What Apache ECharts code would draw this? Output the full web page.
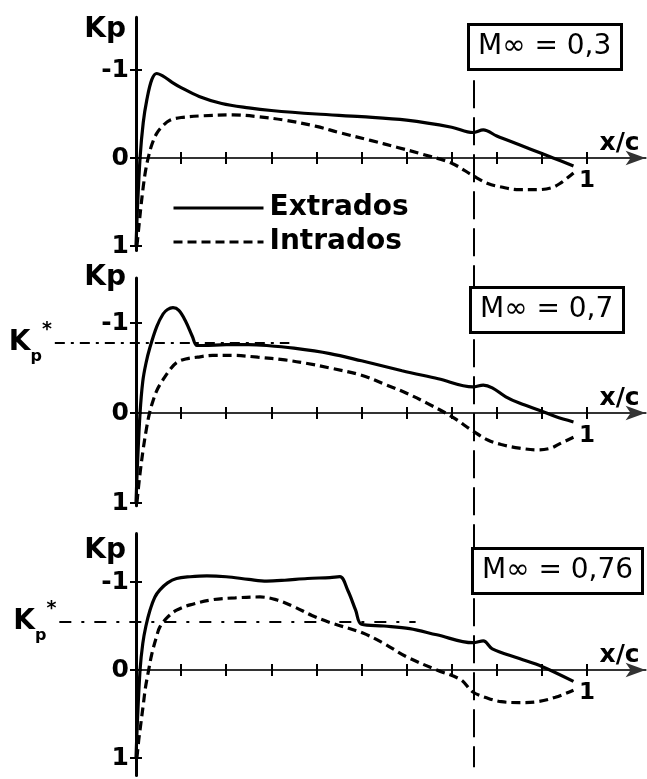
<!DOCTYPE html>
<html><head><meta charset="utf-8">
<script src="https://cdn.jsdelivr.net/npm/echarts@6/dist/echarts.min.js"></script>
<style>html,body{margin:0;padding:0;background:#fff}#c{width:647px;height:779px}</style>
</head><body><div id="c"></div>
<script>
// ---- data ----
const machLabels = ['M∞ = 0,3', 'M∞ = 0,7', 'M∞ = 0,76'];
const seriesNames = ['Extrados', 'Intrados'];
const kpTicks = [-1, 0, 1];
const kpTickLabels = ['-1', '0', '1'];
const xTicks = [0.1, 0.2, 0.3, 0.4, 0.5, 0.6, 0.7, 0.8, 0.9, 1.0];
const xLabelValues = [1];
const shockX = 0.75;               // x/c of the vertical dashed line
const kpStarValues = [null, -0.78, -0.55];
const kpStarSpan = [null, [-0.18, 0.34], [-0.17, 0.62]];

const extrados1 = [[0,1.0],[0.003,0.6],[0.009,0],[0.016,-0.4],[0.024,-0.66],[0.035,-0.89],[0.046,-0.96],[0.06,-0.93],[0.08,-0.86],[0.1,-0.8],[0.14,-0.7],[0.19,-0.62],[0.25,-0.57],[0.3,-0.54],[0.4,-0.5],[0.5,-0.47],[0.6,-0.43],[0.7,-0.35],[0.747,-0.29],[0.77,-0.32],[0.8,-0.25],[0.85,-0.15],[0.9,-0.05],[0.925,0],[0.97,0.09]];
const intrados1 = [[0.002,1.0],[0.006,0.8],[0.011,0.55],[0.016,0.33],[0.021,0.15],[0.027,0],[0.035,-0.15],[0.046,-0.28],[0.06,-0.37],[0.075,-0.43],[0.1,-0.46],[0.15,-0.48],[0.215,-0.49],[0.27,-0.47],[0.33,-0.43],[0.4,-0.36],[0.45,-0.29],[0.52,-0.2],[0.58,-0.12],[0.63,-0.05],[0.7,0.06],[0.747,0.2],[0.78,0.29],[0.81,0.33],[0.85,0.36],[0.89,0.36],[0.92,0.34],[0.94,0.29],[0.97,0.17]];

const extrados2 = [[0,1.0],[0.003,0.6],[0.009,0],[0.015,-0.35],[0.022,-0.55],[0.031,-0.73],[0.046,-0.96],[0.06,-1.1],[0.07,-1.15],[0.082,-1.17],[0.095,-1.14],[0.11,-1.02],[0.125,-0.85],[0.135,-0.75],[0.15,-0.75],[0.2,-0.76],[0.25,-0.76],[0.29,-0.75],[0.35,-0.72],[0.43,-0.66],[0.5,-0.58],[0.59,-0.47],[0.67,-0.38],[0.747,-0.29],[0.77,-0.31],[0.79,-0.28],[0.82,-0.18],[0.85,-0.11],[0.9,-0.02],[0.93,0.04],[0.97,0.1]];
const intrados2 = [[0.002,1.0],[0.005,0.85],[0.009,0.67],[0.016,0.4],[0.024,0.15],[0.03,0],[0.038,-0.14],[0.048,-0.27],[0.06,-0.37],[0.075,-0.48],[0.09,-0.56],[0.11,-0.6],[0.135,-0.62],[0.17,-0.64],[0.215,-0.64],[0.27,-0.62],[0.33,-0.59],[0.38,-0.55],[0.43,-0.5],[0.5,-0.42],[0.556,-0.31],[0.6,-0.22],[0.645,-0.11],[0.7,0.04],[0.747,0.2],[0.78,0.3],[0.81,0.35],[0.85,0.39],[0.89,0.41],[0.92,0.39],[0.94,0.34],[0.97,0.27]];

const extrados3 = [[0,1.0],[0.003,0.6],[0.009,0],[0.015,-0.3],[0.022,-0.5],[0.031,-0.68],[0.042,-0.83],[0.053,-0.91],[0.07,-0.99],[0.09,-1.04],[0.12,-1.06],[0.157,-1.07],[0.2,-1.06],[0.25,-1.03],[0.29,-1.01],[0.33,-1.02],[0.38,-1.04],[0.43,-1.05],[0.452,-1.06],[0.47,-0.9],[0.487,-0.68],[0.5,-0.52],[0.55,-0.5],[0.607,-0.47],[0.667,-0.4],[0.747,-0.31],[0.77,-0.33],[0.79,-0.24],[0.85,-0.13],[0.9,-0.04],[0.97,0.13]];
const intrados3 = [[0.002,1.0],[0.006,0.8],[0.009,0.68],[0.016,0.4],[0.021,0.2],[0.027,0.03],[0.035,-0.18],[0.045,-0.37],[0.053,-0.49],[0.07,-0.6],[0.09,-0.68],[0.12,-0.74],[0.171,-0.8],[0.22,-0.82],[0.275,-0.83],[0.31,-0.8],[0.35,-0.72],[0.39,-0.62],[0.43,-0.54],[0.503,-0.42],[0.55,-0.3],[0.6,-0.15],[0.667,0],[0.72,0.11],[0.747,0.25],[0.78,0.32],[0.81,0.36],[0.85,0.37],[0.89,0.36],[0.93,0.31],[0.97,0.23]];

const extradosAll = [extrados1, extrados2, extrados3];
const intradosAll = [intrados1, intrados2, intrados3];

// ---- layout (not data) ----
const FONT = 'DejaVu Sans';
const PX_PER_X = 451;
const GRID_LEFT = 136, X_MIN_EXT = -0.19, X_MAX = 1.13;
const GRID_W = X_MAX * PX_PER_X;
const panels = [
  {top: 17.2, height: 233.2, min: -1.6, max: 1.05, nameGap: 1, box: {left: 468, top: 24}},
  {top: 278, height: 227.7, min: -1.5, max: 1.03, nameGap: 14, box: {left: 470, top: 287}},
  {top: 533.6, height: 242, min: -1.55, max: 1.2, nameGap: -3, box: {left: 472, top: 548}}
];

const grid = [], xAxis = [], yAxis = [], series = [], title = [];
const txt = (size, weight) => ({fontSize: size, fontWeight: weight, color: '#000', fontFamily: FONT});

panels.forEach((p, i) => {
  const gi = grid.length;
  grid.push({left: GRID_LEFT, width: GRID_W, top: p.top, height: p.height});
  const zeroOffset = -p.height * p.max / (p.max - p.min);
  const xi = xAxis.length, yi = yAxis.length;
  xAxis.push({
    type: 'value', gridIndex: gi, min: 0, max: X_MAX, position: 'bottom', offset: zeroOffset,
    axisLine: {onZero: false, lineStyle: {color: '#333', width: 2}, symbol: ['none', 'arrow'], symbolSize: [11, 20]},
    axisTick: {show: true, inside: false, length: 6, customValues: xTicks, lineStyle: {color: '#000', width: 2}},
    axisLabel: Object.assign({show: true, customValues: xLabelValues, margin: 12, formatter: v => String(v)}, txt(23, 'bold')),
    splitLine: {show: false},
    name: 'x/c', nameLocation: 'end', nameGap: -6,
    nameTextStyle: Object.assign({align: 'right', verticalAlign: 'bottom', padding: [0, 0, 2, 0]}, txt(25, 'bold'))
  });
  xAxis.push({
    type: 'value', gridIndex: gi, min: 0, max: X_MAX, position: 'bottom', offset: zeroOffset,
    axisLine: {show: false, onZero: false},
    axisTick: {show: true, inside: true, length: 6, customValues: xTicks, lineStyle: {color: '#000', width: 2}},
    axisLabel: {show: false}, splitLine: {show: false}
  });
  yAxis.push({
    type: 'value', gridIndex: gi, min: p.min, max: p.max, inverse: true, position: 'left',
    axisLine: {onZero: false, lineStyle: {color: '#000', width: 3}},
    axisTick: {show: true, length: 6, customValues: kpTicks, lineStyle: {color: '#000', width: 2}},
    axisLabel: Object.assign({show: true, customValues: kpTicks, margin: 7,
      formatter: v => kpTickLabels[kpTicks.indexOf(v)]}, txt(25, 'bold')),
    splitLine: {show: false},
    name: 'Kp', nameLocation: 'start', nameGap: p.nameGap,
    nameTextStyle: Object.assign({align: 'right', verticalAlign: 'top', padding: [0, 10, 0, 0]}, txt(28, 'bold'))
  });
  yAxis.push({
    type: 'value', gridIndex: gi, min: p.min, max: p.max, inverse: true, position: 'left',
    axisLine: {show: false, onZero: false},
    axisTick: {show: true, inside: true, length: 6, customValues: kpTicks, lineStyle: {color: '#000', width: 2}},
    axisLabel: {show: false}, splitLine: {show: false}
  });
  series.push({
    name: seriesNames[0], type: 'line', xAxisIndex: xi, yAxisIndex: yi,
    data: extradosAll[i], symbol: 'none', smooth: 0.35,
    lineStyle: {color: '#000', width: 3.2}, itemStyle: {color: '#000'}
  });
  series.push({
    name: seriesNames[1], type: 'line', xAxisIndex: xi, yAxisIndex: yi,
    data: intradosAll[i], symbol: 'none', smooth: 0.35,
    lineStyle: {color: '#000', width: 3.2, type: [9, 5]}, itemStyle: {color: '#000'}
  });
  if (kpStarValues[i] !== null) {
    // helper grid sharing the panel's Kp scale but extending left of the Kp axis
    const hg = grid.length;
    grid.push({left: GRID_LEFT + X_MIN_EXT * PX_PER_X, width: (X_MAX - X_MIN_EXT) * PX_PER_X, top: p.top, height: p.height});
    const hx = xAxis.length, hy = yAxis.length;
    xAxis.push({type: 'value', gridIndex: hg, min: X_MIN_EXT, max: X_MAX, show: false});
    yAxis.push({type: 'value', gridIndex: hg, min: p.min, max: p.max, inverse: true, show: false});
    series.push({
      type: 'line', xAxisIndex: hx, yAxisIndex: hy, data: [], clip: false, silent: true,
      markLine: {
        silent: true, symbol: 'none', animation: false,
        lineStyle: {color: '#000', width: 2, type: i === 1 ? [10, 6, 3, 6] : [12, 10, 3, 10]},
        label: {show: true, position: 'start', distance: 3,
          formatter: '{k|K}{p|p}{s|*}',
          rich: {
            k: Object.assign({verticalAlign: 'middle', lineHeight: 44}, txt(28, 'bold')),
            p: Object.assign({verticalAlign: 'bottom', lineHeight: 40}, txt(16, 'bold')),
            s: Object.assign({verticalAlign: 'top', lineHeight: 44}, txt(19, 'bold'))
          }},
        data: [[{coord: [kpStarSpan[i][0], kpStarValues[i]]}, {coord: [kpStarSpan[i][1], kpStarValues[i]]}]]
      }
    });
  }
  title.push({
    text: machLabels[i], left: p.box.left, top: p.box.top,
    backgroundColor: '#fff', borderColor: '#000', borderWidth: 3,
    padding: [7, 10, 7, 10],
    textStyle: Object.assign({lineHeight: 32}, txt(28, 'normal'))
  });
});

// overlay grid for the vertical dashed line spanning all panels
const og = grid.length;
grid.push({left: GRID_LEFT, width: GRID_W, top: 0, height: 779});
const oxi = xAxis.length, oyi = yAxis.length;
xAxis.push({type: 'value', gridIndex: og, min: 0, max: X_MAX, show: false});
yAxis.push({type: 'value', gridIndex: og, min: 0, max: 1, inverse: true, show: false});
series.push({
  type: 'line', xAxisIndex: oxi, yAxisIndex: oyi, data: [], clip: false, silent: true,
  markLine: {
    silent: true, symbol: 'none', animation: false, label: {show: false},
    lineStyle: {color: '#000', width: 2, type: [28, 9]},
    data: [[{coord: [shockX, 0.103]}, {coord: [shockX, 0.985]}]]
  }
});

const chart = echarts.init(document.getElementById('c'), null, {renderer: 'canvas'});
chart.setOption({
  animation: false,
  backgroundColor: '#fff',
  title: title,
  legend: {
    data: seriesNames, orient: 'vertical', left: 172, top: 194, padding: 0,
    itemWidth: 90, itemHeight: 14, itemGap: 6,
    itemStyle: {opacity: 0},
    lineStyle: {width: 3},
    textStyle: Object.assign({padding: [0, 0, 0, 1]}, txt(28, 'bold'))
  },
  grid: grid, xAxis: xAxis, yAxis: yAxis, series: series
});
</script></body></html>
